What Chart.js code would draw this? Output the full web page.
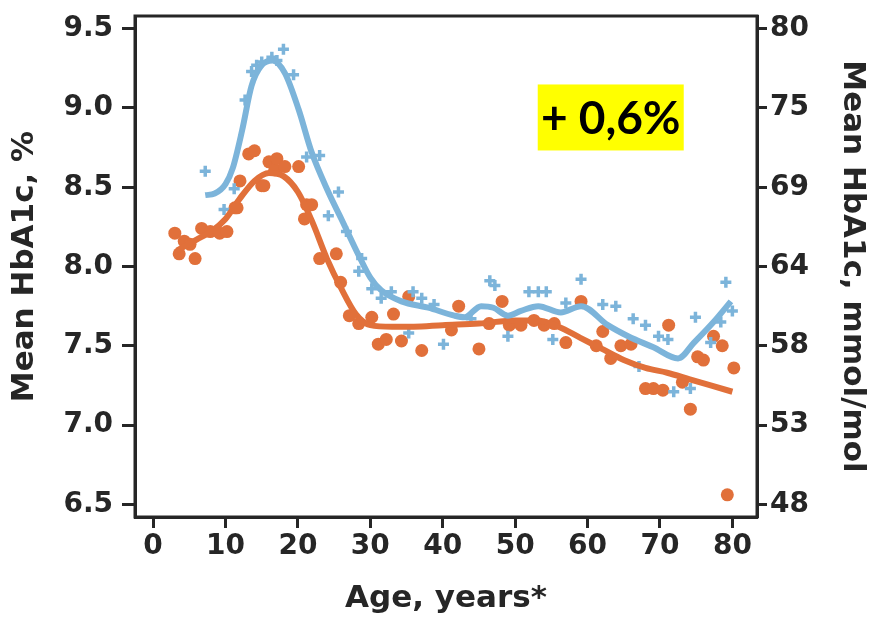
<!DOCTYPE html>
<html>
<head>
<meta charset="utf-8">
<title>Mean HbA1c by age</title>
<script src="https://cdn.jsdelivr.net/npm/chart.js@4/dist/chart.umd.min.js"></script>
<style>
    html, body { margin: 0; padding: 0; background: #fff; }
    canvas { display: block; }
</style>
</head>
<body>
<canvas id="hba1cChart" width="871" height="620"></canvas>
<script>
// values
const xTickValues = [0, 10, 20, 30, 40, 50, 60, 70, 80];
const yTickValues = [6.5, 7.0, 7.5, 8.0, 8.5, 9.0, 9.5];
const rightTickLabels = ['48', '53', '58', '64', '69', '75', '80'];

const orangeDotAges = [3.0, 3.6, 4.3, 5.1, 5.8, 6.7, 7.9, 9.2, 10.2, 11.3, 11.6, 12.0, 13.2, 14.0, 15.0, 15.3, 16.0, 16.8, 17.1, 18.2, 20.1, 20.9, 21.2, 21.9, 23.0, 25.3, 25.9, 27.1, 28.4, 30.2, 31.1, 32.2, 33.2, 34.3, 35.3, 37.1, 41.2, 42.2, 45.0, 46.4, 48.2, 49.2, 50.8, 52.6, 54.0, 55.4, 57.0, 59.1, 61.2, 62.1, 63.2, 64.6, 66.0, 68.0, 69.1, 70.4, 71.2, 73.1, 74.2, 75.2, 76.0, 77.4, 78.6, 79.3, 80.2];
const orangeDotValues = [8.21, 8.08, 8.16, 8.14, 8.05, 8.24, 8.22, 8.21, 8.22, 8.37, 8.37, 8.54, 8.71, 8.73, 8.51, 8.51, 8.66, 8.61, 8.68, 8.63, 8.63, 8.30, 8.39, 8.39, 8.05, 8.08, 7.90, 7.69, 7.64, 7.68, 7.51, 7.54, 7.70, 7.53, 7.81, 7.47, 7.60, 7.75, 7.48, 7.64, 7.78, 7.63, 7.63, 7.66, 7.63, 7.64, 7.52, 7.78, 7.50, 7.59, 7.42, 7.50, 7.51, 7.23, 7.23, 7.22, 7.63, 7.27, 7.10, 7.43, 7.41, 7.56, 7.50, 6.56, 7.36];

const blueCrossAges = [7.2, 9.8, 11.2, 12.7, 13.6, 14.3, 15.0, 16.4, 17.1, 18.0, 19.4, 21.2, 23.0, 24.2, 25.6, 26.7, 28.4, 28.8, 30.2, 31.5, 32.9, 35.3, 35.9, 37.1, 38.8, 40.1, 43.9, 46.5, 47.2, 49.0, 51.9, 53.2, 54.3, 55.2, 57.0, 59.1, 62.1, 63.9, 66.3, 67.1, 68.0, 69.8, 71.1, 71.9, 74.2, 74.9, 77.0, 78.4, 79.1, 80.0];
const blueCrossValues = [8.60, 8.36, 8.49, 9.05, 9.23, 9.27, 9.29, 9.32, 9.30, 9.37, 9.21, 8.69, 8.70, 8.32, 8.47, 8.22, 7.97, 8.05, 7.86, 7.80, 7.84, 7.58, 7.84, 7.80, 7.76, 7.51, 7.67, 7.91, 7.88, 7.56, 7.84, 7.84, 7.84, 7.54, 7.77, 7.92, 7.76, 7.75, 7.67, 7.37, 7.63, 7.56, 7.54, 7.21, 7.23, 7.68, 7.52, 7.65, 7.90, 7.72];

const orangeCurveAges = [3.3, 6, 8, 10, 12, 14, 16, 18, 20, 22, 24, 26, 28, 30, 33, 36, 40, 45, 50, 53, 56, 59, 62, 65, 68, 71, 74, 77, 80];
const orangeCurveValues = [8.10, 8.17, 8.22, 8.30, 8.43, 8.54, 8.59, 8.57, 8.47, 8.28, 8.05, 7.86, 7.70, 7.63, 7.62, 7.62, 7.63, 7.64, 7.66, 7.66, 7.62, 7.55, 7.48, 7.41, 7.36, 7.33, 7.29, 7.25, 7.21];

const blueCurveAges = [7.2, 8.5, 10, 11, 12.3, 13.6, 15.0, 16.5, 18.2, 20.1, 21.9, 24.2, 26.0, 28.4, 30, 31.5, 34.3, 38, 41.6, 43, 45.3, 47, 49.0, 50.8, 53.2, 56.3, 59.1, 62.8, 65.6, 69.1, 72.5, 74.7, 77.4, 79.8];
const blueCurveValues = [8.45, 8.46, 8.52, 8.62, 8.86, 9.14, 9.27, 9.30, 9.22, 8.99, 8.72, 8.47, 8.30, 8.07, 7.93, 7.85, 7.78, 7.74, 7.69, 7.68, 7.75, 7.74, 7.69, 7.72, 7.75, 7.71, 7.75, 7.63, 7.56, 7.49, 7.42, 7.52, 7.65, 7.78];

const annotationText = '+ 0,6%';
const annotationAge = 63.2;
const annotationValue = 8.94;

const orange = 'rgb(225, 112, 58)';
const blue = 'rgb(124, 180, 218)';
const ink = '#262626';
const tickFont = { family: "'DejaVu Sans', sans-serif", size: 28, weight: 'bold' };
const titleFont = { family: "'DejaVu Sans', sans-serif", size: 31, weight: 'bold' };

function toPoints(xs, ys) {
    return xs.map((x, i) => ({ x: x, y: ys[i] }));
}

function fixedTicks(values) {
    return function (scale) {
        scale.ticks = values.map(v => ({ value: v }));
    };
}

// the frame edges sit a little outside the first and last ticks, so no label padding
function noPadding(scale) {
    scale.paddingTop = 0;
    scale.paddingBottom = 0;
    scale.paddingLeft = 0;
    scale.paddingRight = 0;
}

const framePlugin = {
    id: 'frame',
    afterDraw(chart) {
        const a = chart.chartArea;
        const c = chart.ctx;
        c.save();
        c.strokeStyle = ink;
        c.lineWidth = 3;
        c.strokeRect(a.left, a.top, a.right - a.left, a.bottom - a.top);
        c.restore();
    }
};

const labelPlugin = {
    id: 'yellowLabel',
    afterDraw(chart) {
        const c = chart.ctx;
        const cx = chart.scales.x.getPixelForValue(annotationAge);
        const cy = chart.scales.y.getPixelForValue(annotationValue);
        const w = 146, h = 66;
        c.save();
        c.fillStyle = '#ffff00';
        c.fillRect(cx - w / 2, cy - h / 2, w, h);
        c.fillStyle = '#000';
        c.font = "bold 46px Lato, 'Open Sans', sans-serif";
        c.textAlign = 'center';
        c.textBaseline = 'middle';
        c.fillText(annotationText, cx, cy + 2);
        c.restore();
    }
};

const ctx = document.getElementById('hba1cChart').getContext('2d');
const hba1cChart = new Chart(ctx, {
    type: 'scatter',
    data: {
        datasets: [{
            type: 'line',
            label: 'blue fit',
            data: toPoints(blueCurveAges, blueCurveValues),
            borderColor: blue,
            borderWidth: 6,
            pointRadius: 0,
            fill: false,
            cubicInterpolationMode: 'monotone'
        },
        {
            type: 'line',
            label: 'orange fit',
            data: toPoints(orangeCurveAges, orangeCurveValues),
            borderColor: orange,
            borderWidth: 6,
            pointRadius: 0,
            fill: false,
            cubicInterpolationMode: 'monotone'
        },
        {
            label: 'blue',
            data: toPoints(blueCrossAges, blueCrossValues),
            pointStyle: 'cross',
            pointRadius: 5.5,
            borderWidth: 3.5,
            borderColor: blue,
            backgroundColor: blue
        },
        {
            label: 'orange',
            data: toPoints(orangeDotAges, orangeDotValues),
            pointStyle: 'circle',
            pointRadius: 6.5,
            borderWidth: 0,
            backgroundColor: orange
        }]
    },
    options: {
        responsive: false,
        animation: false,
        devicePixelRatio: 1,
        layout: { padding: { top: 16, left: 0, right: 0, bottom: 0 } },
        plugins: {
            legend: { display: false },
            tooltip: { enabled: false }
        },
        scales: {
            x: {
                type: 'linear',
                min: -2.5,
                max: 83.4,
                afterBuildTicks: fixedTicks(xTickValues),
                afterFit(scale) { scale.height = 103; noPadding(scale); },
                grid: { drawOnChartArea: false, tickLength: 11, tickWidth: 3, color: ink },
                border: { width: 3, color: ink },
                ticks: { font: tickFont, color: ink, padding: 2 },
                title: { display: true, text: 'Age, years*', font: titleFont, color: ink, padding: { top: 0, bottom: 2 } }
            },
            y: {
                position: 'left',
                min: 6.42,
                max: 9.58,
                afterBuildTicks: fixedTicks(yTickValues),
                afterFit(scale) { scale.width = 135; noPadding(scale); },
                grid: { drawOnChartArea: false, tickLength: 13, tickWidth: 3, color: ink },
                border: { width: 3, color: ink },
                ticks: { font: tickFont, color: ink, padding: 9, callback: v => v.toFixed(1) },
                title: { display: true, text: 'Mean HbA1c, %', font: titleFont, color: ink, padding: { top: 6, bottom: 0 } }
            },
            y2: {
                position: 'right',
                min: 6.42,
                max: 9.58,
                afterBuildTicks: fixedTicks(yTickValues),
                afterFit(scale) { scale.width = 114; noPadding(scale); },
                grid: { drawOnChartArea: false, tickLength: 10, tickWidth: 3, color: ink },
                border: { width: 3, color: ink },
                ticks: { font: tickFont, color: ink, padding: 3, callback: (v, i) => rightTickLabels[i] },
                title: { display: true, text: 'Mean HbA1c, mmol/mol', font: titleFont, color: ink, padding: { top: 0, bottom: 0 } }
            }
        }
    },
    plugins: [framePlugin, labelPlugin]
});
</script>
</body>
</html>
